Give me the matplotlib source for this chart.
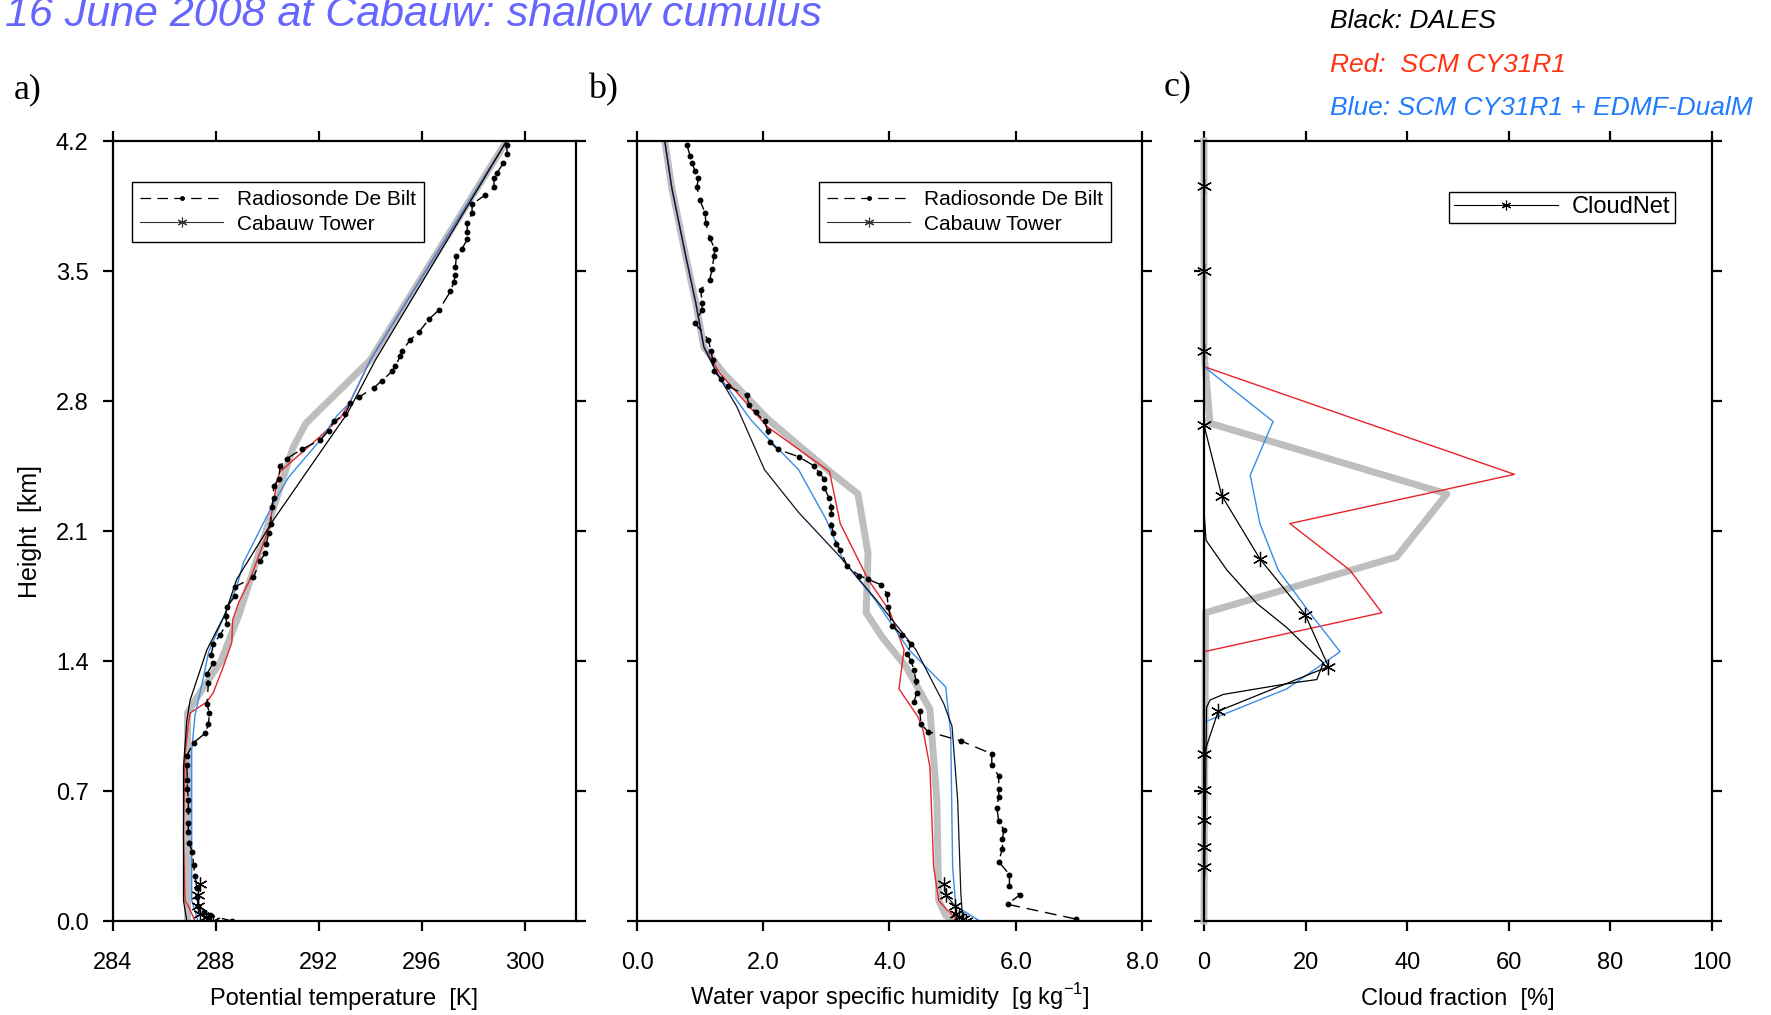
import numpy as np
import matplotlib.pyplot as plt
from matplotlib.lines import Line2D

plt.rcParams['font.family'] = ['Liberation Sans', 'DejaVu Sans']

# ---------------- data ----------------
z_ticks = [0.0, 0.7, 1.4, 2.1, 2.8, 3.5, 4.2]

# Cabauw tower levels (km)
tower_z = [0.2, 0.14, 0.08, 0.04, 0.02, 0.01, 0.002]

# a) potential temperature [K]
a_gray_th = [299.3, 294.0, 291.5, 291.0, 290.3, 289.6, 288.9, 288.2, 287.2, 286.9, 286.9]
a_gray_z = [4.2, 3.02, 2.68, 2.55, 2.25, 1.95, 1.65, 1.40, 1.19, 1.12, 0.0]

a_red_th = [299.3, 294.0, 293.2, 292.84, 292.06, 290.5, 290.37, 290.24, 290.05, 289.33,
            288.9, 288.65, 288.62, 288.29, 287.9, 287.65, 287.0, 286.93, 286.8, 286.74,
            286.8, 286.93, 287.19]
a_red_z = [4.2, 3.02, 2.79, 2.71, 2.61, 2.42, 2.37, 2.25, 2.11, 1.84,
           1.72, 1.62, 1.50, 1.37, 1.23, 1.18, 1.12, 1.06, 0.90, 0.47,
           0.11, 0.08, 0.0]

a_blue_th = [299.3, 294.0, 293.2, 292.7, 292.06, 290.83, 290.24, 289.07, 288.81, 288.6,
             287.72, 287.52, 287.19, 287.06, 287.06, 287.2, 287.3]
a_blue_z = [4.2, 3.02, 2.79, 2.72, 2.59, 2.39, 2.25, 1.93, 1.80, 1.73,
            1.45, 1.315, 1.11, 0.92, 0.11, 0.05, 0.0]

a_les_th = [299.3, 294.2, 293.1, 292.84, 290.24, 288.81, 288.35, 287.65, 287.0, 286.87,
            286.74, 286.74, 286.87]
a_les_z = [4.2, 3.02, 2.73, 2.68, 2.16, 1.84, 1.65, 1.46, 1.19, 1.08,
           0.83, 0.11, 0.0]

a_sonde_th = [299.3, 299.33, 299.17, 298.94, 298.81, 298.81, 298.48, 297.96, 297.96, 297.77,
              297.77, 297.77, 297.57, 297.35, 297.31, 297.31, 297.25, 297.12, 296.67, 296.28,
              295.89, 295.56, 295.24, 295.17, 294.98, 294.85, 294.46, 294.13, 293.55, 293.23,
              293.03, 292.58, 292.38, 292.06, 291.34, 290.76, 290.5, 290.44, 290.24, 290.24,
              290.17, 290.13, 290.05, 289.96, 289.92, 289.72, 289.46, 288.75, 288.75, 288.42,
              288.38, 288.42, 288.16, 287.9, 287.81, 287.9, 287.65, 287.71, 287.65, 287.75,
              287.71, 287.58, 287.13, 286.87, 286.87, 286.89, 286.89, 286.93, 286.93, 286.93,
              286.93, 286.96, 287.09, 287.13, 287.19, 287.26, 287.26, 287.32, 287.52, 287.78,
              288.62]
a_sonde_z = [4.18, 4.13, 4.08, 4.03, 4.0, 3.95, 3.91, 3.86, 3.81, 3.76,
             3.71, 3.67, 3.62, 3.58, 3.52, 3.48, 3.44, 3.39, 3.29, 3.24,
             3.17, 3.13, 3.07, 3.04, 2.99, 2.96, 2.91, 2.87, 2.82, 2.79,
             2.73, 2.69, 2.64, 2.59, 2.54, 2.49, 2.45, 2.38, 2.34, 2.28,
             2.23, 2.14, 2.09, 2.03, 1.98, 1.94, 1.85, 1.80, 1.75, 1.69,
             1.64, 1.60, 1.54, 1.49, 1.43, 1.39, 1.33, 1.28, 1.17, 1.12,
             1.06, 1.01, 0.96, 0.89, 0.84, 0.76, 0.71, 0.65, 0.60, 0.53,
             0.48, 0.42, 0.37, 0.30, 0.24, 0.18, 0.13, 0.08, 0.05, 0.03,
             0.0]

a_tower_th = [287.4, 287.3, 287.3, 287.4, 287.6, 287.7, 287.9]

# b) specific humidity [g/kg]
b_gray_q = [0.44, 0.55, 0.76, 0.93, 1.06, 1.37, 2.08, 3.09, 3.50, 3.66, 3.63, 3.88, 4.26,
            4.64, 4.75, 4.78, 4.89, 5.05]
b_gray_z = [4.2, 3.95, 3.6, 3.33, 3.09, 2.95, 2.70, 2.41, 2.30, 1.98, 1.66, 1.53, 1.37,
            1.14, 0.65, 0.11, 0.03, 0.0]

b_red_q = [0.44, 0.55, 0.76, 0.93, 1.06, 1.31, 1.91, 2.07, 3.05, 3.22, 3.66, 4.0, 4.23,
           4.15, 4.45, 4.53, 4.64, 4.70, 4.78, 4.91, 5.10]
b_red_z = [4.2, 3.95, 3.6, 3.33, 3.09, 2.95, 2.72, 2.66, 2.42, 2.14, 1.84, 1.67, 1.46,
           1.25, 1.10, 1.03, 0.83, 0.29, 0.11, 0.06, 0.0]

b_blue_q = [0.44, 0.55, 0.76, 0.93, 1.06, 1.25, 1.42, 1.80, 2.10, 2.56, 3.0, 3.27, 3.77,
            4.31, 4.89, 4.97, 5.0, 5.05, 5.43]
b_blue_z = [4.2, 3.95, 3.6, 3.33, 3.09, 2.96, 2.88, 2.70, 2.59, 2.43, 2.16, 1.94, 1.73,
            1.46, 1.26, 1.01, 0.29, 0.08, 0.0]

b_les_q = [0.44, 0.55, 0.76, 0.93, 1.06, 1.25, 1.58, 2.02, 2.56, 3.22, 3.79, 4.42, 4.86,
           4.99, 5.08, 5.13, 5.16]
b_les_z = [4.2, 3.95, 3.6, 3.33, 3.09, 2.96, 2.77, 2.43, 2.20, 1.96, 1.73, 1.46, 1.17,
           1.05, 0.65, 0.15, 0.0]

b_sonde_q = [0.79, 0.84, 0.87, 0.92, 0.97, 0.95, 1.0, 1.08, 1.09, 1.15,
             1.23, 1.22, 1.19, 1.15, 1.01, 1.03, 1.03, 0.92, 1.13, 1.17,
             1.20, 1.22, 1.33, 1.44, 1.74, 1.77, 1.88, 2.02, 2.07, 2.10,
             2.23, 2.56, 2.81, 2.89, 2.97, 2.97, 3.04, 3.08, 3.08, 3.08,
             3.11, 3.16, 3.22, 3.33, 3.52, 3.66, 3.87, 3.96, 3.98, 4.04,
             4.20, 4.34, 4.28, 4.34, 4.39, 4.42, 4.43, 4.39, 4.48, 4.50,
             4.61, 5.13, 5.62, 5.62, 5.73, 5.73, 5.73, 5.70, 5.73, 5.81,
             5.79, 5.79, 5.73, 5.90, 5.90, 6.06, 5.87, 6.96]
b_sonde_z = [4.18, 4.12, 4.08, 4.04, 4.0, 3.95, 3.88, 3.81, 3.76, 3.68,
             3.62, 3.58, 3.51, 3.45, 3.40, 3.33, 3.29, 3.22, 3.13, 3.07,
             3.02, 2.96, 2.92, 2.88, 2.83, 2.78, 2.74, 2.69, 2.64, 2.58,
             2.54, 2.50, 2.45, 2.41, 2.38, 2.33, 2.28, 2.23, 2.19, 2.13,
             2.09, 2.03, 2.0, 1.91, 1.86, 1.84, 1.81, 1.76, 1.69, 1.59,
             1.54, 1.49, 1.44, 1.40, 1.35, 1.29, 1.23, 1.18, 1.13, 1.06,
             1.02, 0.97, 0.90, 0.84, 0.78, 0.71, 0.67, 0.61, 0.54, 0.49,
             0.44, 0.39, 0.32, 0.25, 0.19, 0.14, 0.09, 0.01]

b_tower_q = [4.87, 4.89, 5.04, 5.05, 5.10, 5.16, 5.21]

# c) cloud fraction [%]
c_gray_cf = [0, 0, 1.2, 47.8, 37.9, 0.3, 0]
c_gray_z = [4.2, 3.06, 2.68, 2.30, 1.96, 1.66, 0.0]

c_red_cf = [0, 0, 61.1, 16.9, 28.7, 35.0, 0, 0]
c_red_z = [4.2, 2.985, 2.405, 2.14, 1.89, 1.66, 1.45, 0.0]

c_blue_cf = [0, 0, 13.6, 9.1, 11.0, 14.6, 20.8, 26.8, 16.3, 0, 0]
c_blue_z = [4.2, 2.985, 2.69, 2.40, 2.14, 1.89, 1.66, 1.45, 1.25, 1.07, 0.0]

c_les_cf = [0, 0, 0.4, 4.5, 10.4, 16.3, 18.9, 23.5, 22.2, 16.9, 3.8, 1.2, 0.5, 0]
c_les_z = [4.2, 2.21, 2.05, 1.89, 1.71, 1.58, 1.51, 1.39, 1.30, 1.28, 1.22, 1.19, 1.15, 0.0]

c_cloudnet_cf = [0, 0, 0, 0, 3.5, 11.0, 19.9, 24.5, 2.8, 0, 0, 0, 0, 0]
c_cloudnet_z = [3.96, 3.50, 3.07, 2.67, 2.29, 1.95, 1.65, 1.37, 1.13, 0.90, 0.705, 0.544, 0.40, 0.29]

# ---------------- figure ----------------
W, H = 1771, 1015
fig = plt.figure(figsize=(W / 100, H / 100), dpi=100)


def box(left, right, top=141, bottom=921):
    return [left / W, 1 - bottom / H, (right - left) / W, (bottom - top) / H]


ax_a = fig.add_axes(box(113, 576))
ax_b = fig.add_axes(box(637, 1142))
ax_c = fig.add_axes(box(1204, 1712))

GRAY = '#bebebe'
RED = '#e8232b'
BLUE = '#3a8de4'
AST = (6, 2, 0)  # NCL style asterisk

for ax in (ax_a, ax_b, ax_c):
    ax.set_ylim(0, 4.2)
    ax.set_yticks(z_ticks)
    for s in ax.spines.values():
        s.set_linewidth(1.6)
    ax.tick_params(direction='out', length=7.5, width=1.6, labelsize=17,
                   top=True, right=True, labeltop=False, labelright=False)
    ax.tick_params(axis='x', pad=15)
    ax.tick_params(axis='y', pad=10)

# a) potential temperature
ax_a.plot(a_gray_th, a_gray_z, color=GRAY, lw=5, solid_joinstyle='miter')
ax_a.plot(a_red_th, a_red_z, color=RED, lw=1.0)
ax_a.plot(a_blue_th, a_blue_z, color=BLUE, lw=1.0)
ax_a.plot(a_les_th, a_les_z, color='black', lw=0.9)
ax_a.plot(a_sonde_th, a_sonde_z, color='black', lw=1.0, dashes=(8.5, 5),
          marker='o', ms=3.2)
ax_a.plot(a_tower_th, tower_z, color='black', lw=0.8, marker=AST, ms=10, mew=0.9)
ax_a.set_xlim(284, 302)
ax_a.set_xticks([284, 288, 292, 296, 300])
ax_a.set_yticklabels([f'{v:.1f}' for v in z_ticks])
ax_a.set_xlabel('Potential temperature  [K]', fontsize=17, va='baseline')
ax_a.set_ylabel('Height  [km]', fontsize=18, labelpad=10)

# b) humidity
ax_b.plot(b_gray_q, b_gray_z, color=GRAY, lw=5)
ax_b.plot(b_red_q, b_red_z, color=RED, lw=1.0)
ax_b.plot(b_blue_q, b_blue_z, color=BLUE, lw=1.0)
ax_b.plot(b_les_q, b_les_z, color='#10102a', lw=0.9)
ax_b.plot(b_sonde_q, b_sonde_z, color='black', lw=1.0, dashes=(8.5, 5),
          marker='o', ms=3.2)
ax_b.plot(b_tower_q, tower_z, color='black', lw=0.8, marker=AST, ms=10, mew=0.9)
ax_b.set_xlim(0, 8)
ax_b.set_xticks([0, 2, 4, 6, 8])
ax_b.set_xticklabels(['0.0', '2.0', '4.0', '6.0', '8.0'])
ax_b.set_yticklabels([])
ax_b.set_xlabel(r'Water vapor specific humidity  [g kg$^{\mathregular{-1}}$]',
                fontsize=17, va='baseline')

# c) cloud fraction
ax_c.plot(c_gray_cf, c_gray_z, color=GRAY, lw=5, clip_on=False)
ax_c.plot(c_red_cf, c_red_z, color=RED, lw=1.0)
ax_c.plot(c_blue_cf, c_blue_z, color=BLUE, lw=1.0)
ax_c.plot(c_les_cf, c_les_z, color='black', lw=0.9)
ax_c.plot(c_cloudnet_cf, c_cloudnet_z, color='black', lw=0.9, marker=AST, ms=11,
          mew=0.9, clip_on=False)
ax_c.set_xlim(0, 100)
ax_c.set_xticks([0, 20, 40, 60, 80, 100])
ax_c.set_yticklabels([])
ax_c.set_xlabel('Cloud fraction  [%]', fontsize=17, va='baseline')

# x labels share one baseline (~1005 px from the top)
for ax in (ax_a, ax_b, ax_c):
    ax.xaxis.set_label_coords(0.5, (921 - 1005) / 780)

# legends
sonde_h = Line2D([], [], color='black', lw=0.9, dashes=(8.5, 5), marker='o', ms=2.5)
tower_h = Line2D([], [], color='#333333', lw=0.8, marker=AST, ms=7, mew=0.8)
leg_kw = dict(loc='upper left', fontsize=15, handlelength=4.0, handletextpad=0.65,
              borderpad=0.4, labelspacing=0.28, borderaxespad=0, numpoints=1,
              fancybox=False, framealpha=1, edgecolor='black')
for ax, x0 in ((ax_a, 0.040), (ax_b, 0.360)):
    leg = ax.legend([sonde_h, tower_h], ['Radiosonde De Bilt', 'Cabauw Tower'],
                    bbox_to_anchor=(x0, 0.948), **leg_kw)
    leg.get_frame().set_linewidth(1.0)

cn_h = Line2D([], [], color='black', lw=0.8, marker=AST, ms=7, mew=0.8)
leg = ax_c.legend([cn_h], ['CloudNet'], loc='upper left', bbox_to_anchor=(0.483, 0.935),
                  fontsize=17, handlelength=4.4, handletextpad=0.6, borderpad=0.2,
                  borderaxespad=0, numpoints=1, fancybox=False, framealpha=1,
                  edgecolor='black')
leg.get_frame().set_linewidth(1.0)

# panel letters
for x, yb, s in ((14, 98, 'a)'), (588, 98, 'b)'), (1164, 95, 'c)')):
    fig.text(x / W, 1 - yb / H, s, family='Liberation Serif', fontsize=26,
             va='baseline', ha='left')

# title (cut at the top edge as in the original) and colour key
fig.text(5 / W, 1 - 26 / H, '16 June 2008 at Cabauw: shallow cumulus', fontsize=31,
         style='italic', color='#6666ff', va='baseline', ha='left')
fig.text(1330 / W, 1 - 28 / H, 'Black: DALES', fontsize=19, style='italic',
         color='black', va='baseline')
fig.text(1330 / W, 1 - 72 / H, 'Red:  SCM CY31R1', fontsize=19, style='italic',
         color='#ff3311', va='baseline')
fig.text(1330 / W, 1 - 115 / H, 'Blue: SCM CY31R1 + EDMF-DualM', fontsize=19,
         style='italic', color='#1f7bff', va='baseline')

fig.savefig('out.png', dpi=100)
